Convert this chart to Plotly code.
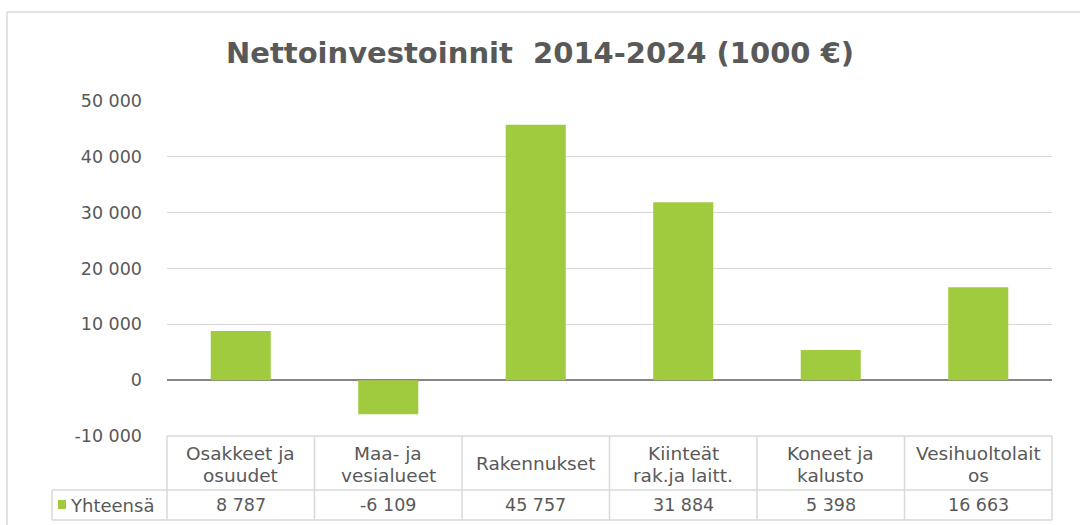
import plotly.graph_objects as go

# ---- data ----
categories = ["Osakkeet ja<br>osuudet", "Maa- ja<br>vesialueet", "Rakennukset",
              "Kiinteät<br>rak.ja laitt.", "Koneet ja<br>kalusto", "Vesihuoltolait<br>os"]
values = [8787, -6109, 45757, 31884, 5398, 16663]
series_name = "Yhteensä"
tick_values = [-10000, 0, 10000, 20000, 30000, 40000, 50000]
title_text = "Nettoinvestoinnit \u00a02014-2024 (1000 €)"


def fmt(v):
    s = f"{abs(v):,}".replace(",", " ")
    return ("-" if v < 0 else "") + s


tick_text = [fmt(v) for v in tick_values]

W, H = 1080, 525
PL, PR, PT, PB = 167, 1052, 101, 436
TXT = "#595959"
GRID = "#d9d9d9"
BAR = "#a0cb3f"
FONT = "DejaVu Sans, Verdana, sans-serif"


def px(p):
    return (p - PL) / (PR - PL)


def py(p):
    return (PB - p) / (PB - PT)


fig = go.Figure()
fig.add_trace(go.Bar(x=list(range(len(values))), y=values, marker_color=BAR,
                     marker_line_width=0, name=series_name, showlegend=False,
                     hoverinfo="skip"))

shapes = []
annotations = []

# outer chart frame
shapes.append(dict(type="line", xref="paper", yref="paper", x0=px(7), x1=px(1200),
                   y0=py(12), y1=py(12), line=dict(color=GRID, width=1.5)))
shapes.append(dict(type="line", xref="paper", yref="paper", x0=px(7), x1=px(7),
                   y0=py(12), y1=py(600), line=dict(color=GRID, width=1.5)))

# data table
n = len(categories)
col_w = (PR - PL) / n
HDR_TOP, HDR_BOT, ROW_BOT, LEG_L = 436, 490, 520, 52
tl = dict(color=GRID, width=1.5)
shapes.append(dict(type="line", xref="paper", yref="paper", x0=px(PL), x1=px(PR),
                   y0=py(HDR_TOP), y1=py(HDR_TOP), line=tl))
for yy in (HDR_BOT, ROW_BOT):
    shapes.append(dict(type="line", xref="paper", yref="paper", x0=px(LEG_L), x1=px(PR),
                       y0=py(yy), y1=py(yy), line=tl))
for k in range(n + 1):
    xx = PL + k * col_w
    shapes.append(dict(type="line", xref="paper", yref="paper", x0=px(xx), x1=px(xx),
                       y0=py(HDR_TOP), y1=py(ROW_BOT), line=tl))
shapes.append(dict(type="line", xref="paper", yref="paper", x0=px(LEG_L), x1=px(LEG_L),
                   y0=py(HDR_BOT), y1=py(ROW_BOT), line=tl))

for i, (cat, v) in enumerate(zip(categories, values)):
    cx = PL + (i + 0.5) * col_w
    lines = cat.split("<br>")
    if len(lines) == 1:
        ys = [463]
    else:
        ys = [453, 475]
    for t, yy in zip(lines, ys):
        annotations.append(dict(text=t, x=px(cx), y=py(yy), xref="paper", yref="paper",
                                showarrow=False, xanchor="center", yanchor="middle",
                                font=dict(size=18.5, color=TXT, family=FONT)))
    annotations.append(dict(text=fmt(v), x=px(cx), y=py(505), xref="paper", yref="paper",
                            showarrow=False, xanchor="center", yanchor="middle",
                            font=dict(size=17.5, color=TXT, family=FONT)))

# legend key in table
shapes.append(dict(type="rect", xref="paper", yref="paper", x0=px(58), x1=px(66),
                   y0=py(500), y1=py(509), fillcolor=BAR, line=dict(width=0)))
annotations.append(dict(text=series_name, x=px(68), y=py(505), xref="paper", yref="paper",
                        showarrow=False, xanchor="left", yanchor="middle",
                        font=dict(size=18, color=TXT, family=FONT)))

# title
annotations.append(dict(text="<b>" + title_text + "</b>", x=px(540), y=py(53), xref="paper",
                        yref="paper", showarrow=False, xanchor="center", yanchor="middle",
                        font=dict(size=29, color=TXT, family=FONT)))

fig.update_layout(
    width=W, height=H,
    margin=dict(l=PL, r=W - PR, t=PT, b=H - PB, pad=0),
    paper_bgcolor="white", plot_bgcolor="white",
    bargap=0.593,
    font=dict(family=FONT, color=TXT, size=17.5),
    shapes=shapes, annotations=annotations,
    xaxis=dict(range=[-0.5, n - 0.5], showticklabels=False, showgrid=False,
               zeroline=False, showline=False, fixedrange=True),
    yaxis=dict(range=[-10000, 50000], tickvals=tick_values, ticktext=tick_text,
               showgrid=True, gridcolor=GRID, gridwidth=1.2,
               zeroline=True, zerolinecolor="#868686", zerolinewidth=2,
               showline=False, ticks="", ticklabelstandoff=24,
               tickfont=dict(size=17.5, color=TXT, family=FONT), fixedrange=True),
)

fig.write_html("out.html", config={"displayModeBar": False},
               post_script="document.body.style.margin='0';document.body.style.overflow='hidden';")
